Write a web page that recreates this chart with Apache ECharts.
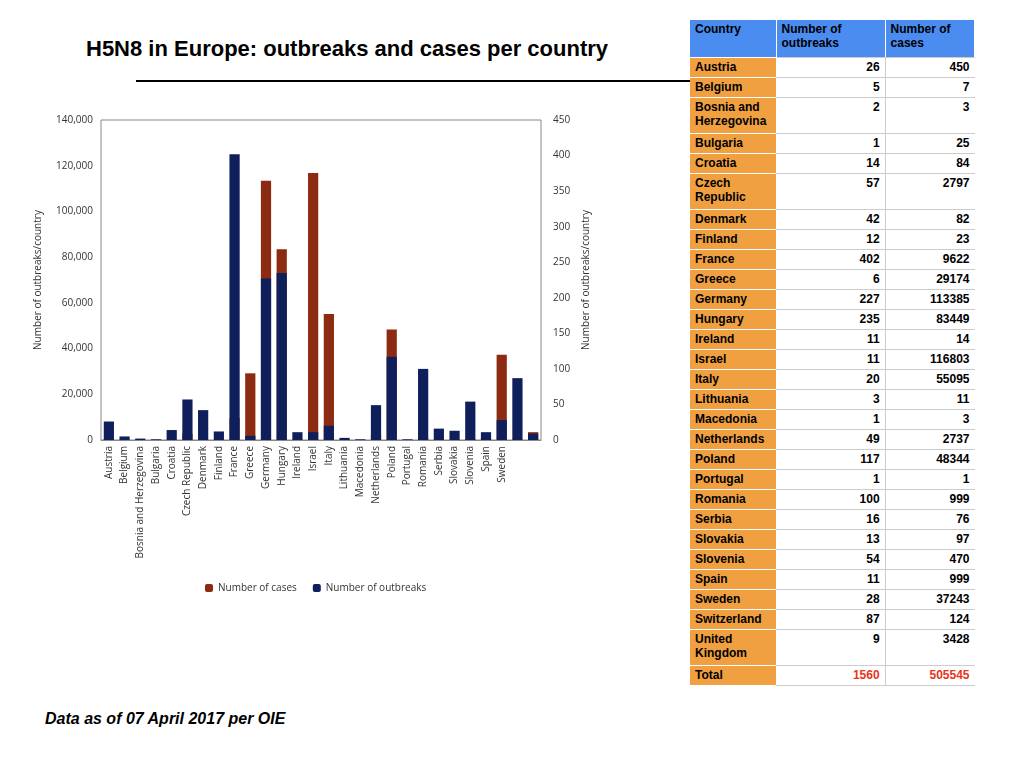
<!DOCTYPE html>
<html>
<head>
<meta charset="utf-8">
<script src="https://cdn.jsdelivr.net/npm/echarts@6/dist/echarts.min.js"></script>
<style>
  body { margin: 0; width: 1024px; height: 768px; position: relative; background: #fff; font-family: "Liberation Sans", Arial, sans-serif; overflow: hidden; }
  #title { position: absolute; left: 86px; top: 36px; font-size: 22px; font-weight: bold; color: #000; }
  #rule { position: absolute; left: 136px; top: 80px; width: 554px; border-top: 2px solid #000; }
  #note { position: absolute; left: 45px; top: 710px; font-size: 16px; font-weight: bold; font-style: italic; }
  #chart { position: absolute; left: 0; top: 90px; width: 690px; height: 530px; }
  #tbl { position: absolute; left: 690px; top: 20px; width: 285px; border-collapse: collapse; font-size: 12px; font-weight: bold; }
  #tbl td { padding: 2px 5px 0 5px; vertical-align: top; border-bottom: 1px solid #ccc; height: 20px; box-sizing: border-box; }
  #tbl td.c { background: #f0a040; width: 86px; border-bottom: 1px solid #fff; }
  #tbl td.n { text-align: right; }
  #tbl td.n1 { border-right: 1px solid #ccc; }
  #tbl tr.h td { background: #4a8cf0; color: #000; height: 37px; border-right: 1px solid #fff; }
  #tbl tr.d td { height: 36px; }
  #tbl tr.t td.n { color: #e8341c; }
</style>
</head>
<body>
<div id="title">H5N8 in Europe: outbreaks and cases per country</div>
<div id="rule"></div>
<div id="chart"></div>
<table id="tbl"></table>
<div id="note">Data as of 07 April 2017 per OIE</div>
<script>
// Данные из таблицы OIE
const countries = ['Austria', 'Belgium', 'Bosnia and Herzegovina', 'Bulgaria', 'Croatia', 'Czech Republic', 'Denmark', 'Finland', 'France', 'Greece', 'Germany', 'Hungary', 'Ireland', 'Israel', 'Italy', 'Lithuania', 'Macedonia', 'Netherlands', 'Poland', 'Portugal', 'Romania', 'Serbia', 'Slovakia', 'Slovenia', 'Spain', 'Sweden', 'Switzerland', 'United Kingdom'];
const outbreaks = [26, 5, 2, 1, 14, 57, 42, 12, 402, 6, 227, 235, 11, 11, 20, 3, 1, 49, 117, 1, 100, 16, 13, 54, 11, 28, 87, 9];
const cases = [450, 7, 3, 25, 84, 2797, 82, 23, 9622, 29174, 113385, 83449, 14, 116803, 55095, 11, 3, 2737, 48344, 1, 999, 76, 97, 470, 999, 37243, 124, 3428];
const tableNames = ['Austria', 'Belgium', 'Bosnia and Herzegovina', 'Bulgaria', 'Croatia', 'Czech Republic', 'Denmark', 'Finland', 'France', 'Greece', 'Germany', 'Hungary', 'Ireland', 'Israel', 'Italy', 'Lithuania', 'Macedonia', 'Netherlands', 'Poland', 'Portugal', 'Romania', 'Serbia', 'Slovakia', 'Slovenia', 'Spain', 'Sweden', 'Switzerland', 'United Kingdom'];
const totalOutbreaks = 1560;
const totalCases = 505545;
const labelledCount = 26; // на графике подписаны только первые 26 стран

// Таблица справа
const tbl = document.getElementById('tbl');
let html = '<tr class="h"><td class="c" style="background:#4a8cf0">Country</td><td>Number of outbreaks</td><td>Number of cases</td></tr>';
const twoLine = { 'Bosnia and Herzegovina': 'Bosnia and<br>Herzegovina', 'Czech Republic': 'Czech<br>Republic', 'United Kingdom': 'United<br>Kingdom' };
tableNames.forEach((name, i) => {
    const cls = twoLine[name] ? ' class="d"' : '';
    html += `<tr${cls}><td class="c">${twoLine[name] || name}</td><td class="n n1">${outbreaks[i]}</td><td class="n">${cases[i]}</td></tr>`;
});
html += `<tr class="t"><td class="c">Total</td><td class="n n1">${totalOutbreaks}</td><td class="n">${totalCases}</td></tr>`;
tbl.innerHTML = html;

const chart = echarts.init(document.getElementById('chart'));
const axisFont = { color: '#333', fontSize: 10, fontFamily: 'Open Sans' };
chart.setOption({
    animation: false,
    grid: { left: 101, right: 149, top: 30, bottom: 180, show: true, borderColor: '#888', borderWidth: 1 },
    legend: {
        top: 488, left: 200,
        itemWidth: 8, itemHeight: 8, itemGap: 16,
        textStyle: { fontSize: 10, fontFamily: 'Open Sans', color: '#333' },
        data: ['Number of cases', 'Number of outbreaks']
    },
    xAxis: {
        type: 'category',
        data: countries,
        axisLine: { lineStyle: { color: '#888' } },
        axisTick: { show: false },
        axisLabel: {
            ...axisFont, rotate: 90, interval: 0, margin: 6,
            formatter: (v, i) => i < labelledCount ? v : ''
        }
    },
    yAxis: [
        {
            type: 'value', min: 0, max: 140000, interval: 20000,
            name: 'Number of outbreaks/country', nameLocation: 'middle', nameGap: 58,
            nameTextStyle: axisFont,
            axisLabel: axisFont, axisLine: { show: false }, axisTick: { show: false }, splitLine: { show: false }
        },
        {
            type: 'value', min: 0, max: 450, interval: 50,
            name: 'Number of outbreaks/country', nameLocation: 'middle', nameGap: 40,
            nameTextStyle: axisFont,
            axisLabel: { ...axisFont, margin: 12 }, axisLine: { show: false }, axisTick: { show: false }, splitLine: { show: false }
        }
    ],
    series: [
        { name: 'Number of cases', type: 'bar', yAxisIndex: 0, data: cases, barWidth: '65%', barGap: '-100%', itemStyle: { color: '#8c2a12' } },
        { name: 'Number of outbreaks', type: 'bar', yAxisIndex: 1, data: outbreaks, barWidth: '65%', barGap: '-100%', itemStyle: { color: '#0f1f5c' } }
    ]
});
</script>
</body>
</html>
